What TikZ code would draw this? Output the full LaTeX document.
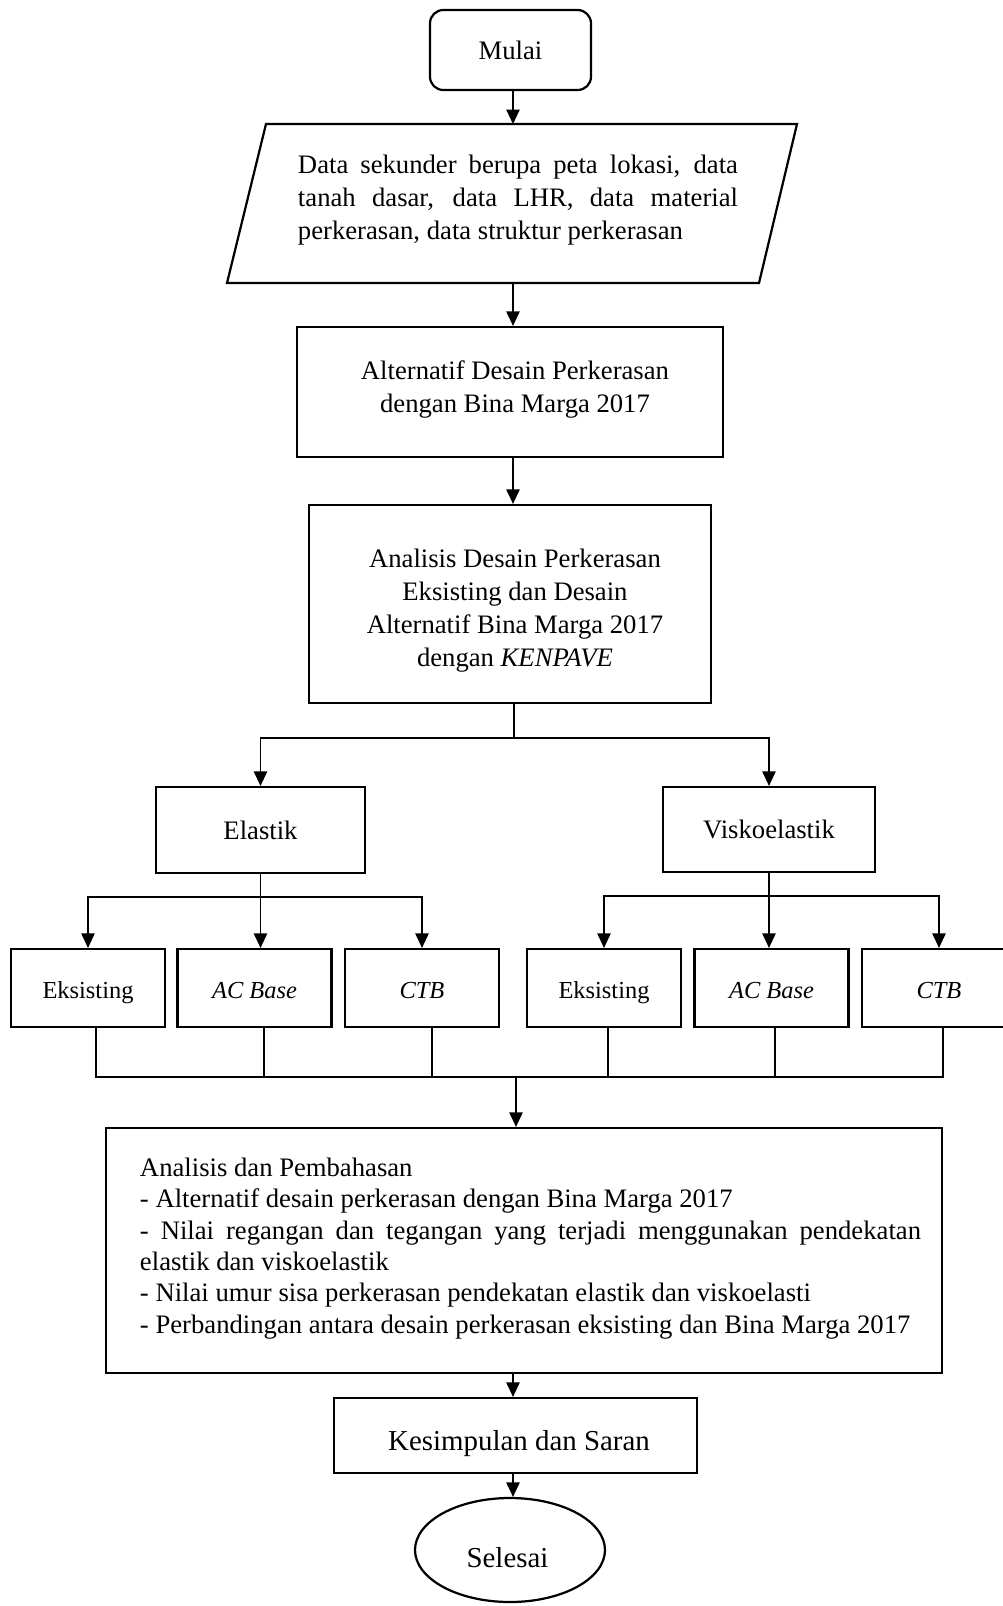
\documentclass[tikz,border=0pt]{standalone}
\usepackage{fontspec}
\setmainfont{Liberation Serif}
\usetikzlibrary{arrows.meta,shapes.geometric}
\setlength{\parindent}{0pt}
\newcommand{\justline}[2]{\leavevmode\hbox to #1{\spaceskip=0.25em plus 1fil\xspaceskip=0.25em plus 1fil\relax #2}}
\newcommand{\normalspaces}{\spaceskip=0pt\xspaceskip=0pt\relax}
\begin{document}
\begin{tikzpicture}[x=0.45pt,y=-0.45pt,
  boxnode/.style={draw, line width=1pt, inner sep=0pt, font=\fontsize{12}{14.85}\selectfont},
  smallbox/.style={boxnode, sz={154}{78}, font=\fontsize{11}{13}\selectfont, text height=9.5pt, text depth=0pt},
  txt/.style={inner sep=0pt, font=\fontsize{12}{14.85}\selectfont},
  conn/.style={line width=0.6pt},
  arr/.style={conn, -{Triangle[length=6.5pt,width=6pt]}},
  sz/.style 2 args={minimum width=#1*0.45pt, minimum height=#2*0.45pt}]
\useasboundingbox (0,0) rectangle (1003,1606);
\clip (0,0) rectangle (1003,1606);

% start
\node[boxnode, rounded corners=6pt, sz={161}{80}] (mulai) at (510.5,50) {Mulai};

% input parallelogram
\draw[line width=1pt] (266,124) -- (797,124) -- (759,283) -- (227,283) -- cycle;
\node[txt, text width=198pt, align=flush left, font=\fontsize{12}{14.7}\selectfont] (data) at (518,200)
 {\normalspaces\justline{198pt}{Data sekunder berupa peta lokasi, data}\\\justline{198pt}{tanah dasar, data LHR, data material}\\\mbox{perkerasan, data struktur perkerasan}};
\coordinate (dtop) at (513,124);
\coordinate (dbot) at (513,283);
\coordinate (col) at (513,0);

\node[boxnode, sz={426}{130}] (alt) at (510,392) {};
\node[txt, align=center] (alttext) at (515,389) {Alternatif Desain Perkerasan\\dengan Bina Marga 2017};
\node[boxnode, sz={402}{198}] (ana) at (510,604) {};
\node[txt, align=center] (anatext) at (515,610.5) {Analisis Desain Perkerasan\\Eksisting dan Desain\\Alternatif Bina Marga 2017\\dengan \textit{KENPAVE}};
\coordinate (j1) at (514,738);

\node[boxnode, sz={209}{86}] (elastik) at (260.5,830) {Elastik};
\node[boxnode, sz={212}{85}] (visko) at (769,829.5) {Viskoelastik};

\node[smallbox] (b1) at (88,988) {Eksisting};
\node[smallbox] (b2) at (254.5,988) {\textit{AC Base}};
\node[smallbox] (b3) at (422,988) {\textit{CTB}};
\node[smallbox] (b4) at (604,988) {Eksisting};
\node[smallbox] (b5) at (771.5,988) {\textit{AC Base}};
\node[smallbox] (b6) at (939,988) {\textit{CTB}};

\node[boxnode, sz={836}{245}] (analisis) at (524,1250.5) {};
\node[txt, text width=351.45pt, align=flush left, font=\fontsize{12}{14.1}\selectfont] (antext) at (530.5,1248.5)
 {\normalspaces\mbox{Analisis dan Pembahasan}\\\mbox{- Alternatif desain perkerasan dengan Bina Marga 2017}\\\justline{351.45pt}{- Nilai regangan dan tegangan yang terjadi menggunakan pendekatan}\\\mbox{elastik dan viskoelastik}\\\mbox{- Nilai umur sisa perkerasan pendekatan elastik dan viskoelasti}\\\mbox{- Perbandingan antara desain perkerasan eksisting dan Bina Marga 2017}};

\node[boxnode, sz={363}{75}] (kes) at (515.5,1435.5) {};
\node[txt, font=\fontsize{13}{15}\selectfont] (kestext) at (519,1444) {Kesimpulan dan Saran};
\node[draw, ellipse, line width=1pt, inner sep=0pt, sz={190}{104}] (selesai) at (510,1550) {};
\node[txt, font=\fontsize{13}{15}\selectfont] (seltext) at (507.5,1558) {Selesai};

% main column arrows
\draw[arr] (mulai.south -| col) -- (dtop);
\draw[arr] (dbot) -- (alt.north -| col);
\draw[arr] (alt.south -| col) -- (ana.north -| col);

% split to elastik / viskoelastik
\draw[conn] (ana.south -| j1) -- (j1);
\draw[arr] (j1) -| (elastik.north);
\draw[arr] (j1) -| (visko.north);

% elastik split
\coordinate (es) at ([yshift=-10.35pt]elastik.south);
\draw[conn] (elastik.south) -- (es);
\draw[arr] (es) -| (b1.north);
\draw[arr] (es) -| (b3.north);
\draw[arr] (es) -- (es |- b2.north);

% viskoelastik split
\coordinate (vs) at ([yshift=-10.35pt]visko.south);
\draw[conn] (visko.south) -- (vs);
\draw[arr] (vs) -| (b4.north);
\draw[arr] (vs) -| (b6.north);
\draw[arr] (vs) -- (vs |- b5.north);

% collector
\coordinate (j2) at (516,1077);
\coordinate (c1) at ([xshift=3.6pt]b1.south);
\coordinate (c2) at ([xshift=4.3pt]b2.south);
\coordinate (c3) at ([xshift=4.5pt]b3.south);
\coordinate (c4) at ([xshift=1.8pt]b4.south);
\coordinate (c5) at ([xshift=1.6pt]b5.south);
\coordinate (c6) at ([xshift=1.8pt]b6.south);
\draw[conn] (c1) |- (j2) -| (c6);
\foreach \c in {c2,c3,c4,c5} \draw[conn] (\c) -- (\c |- j2);
\draw[arr] (j2) -- (analisis.north -| j2);

\draw[arr] (analisis.south -| col) -- (kes.north -| col);
\draw[arr] (kes.south -| col) -- (selesai.north -| col);
\end{tikzpicture}
\end{document}
